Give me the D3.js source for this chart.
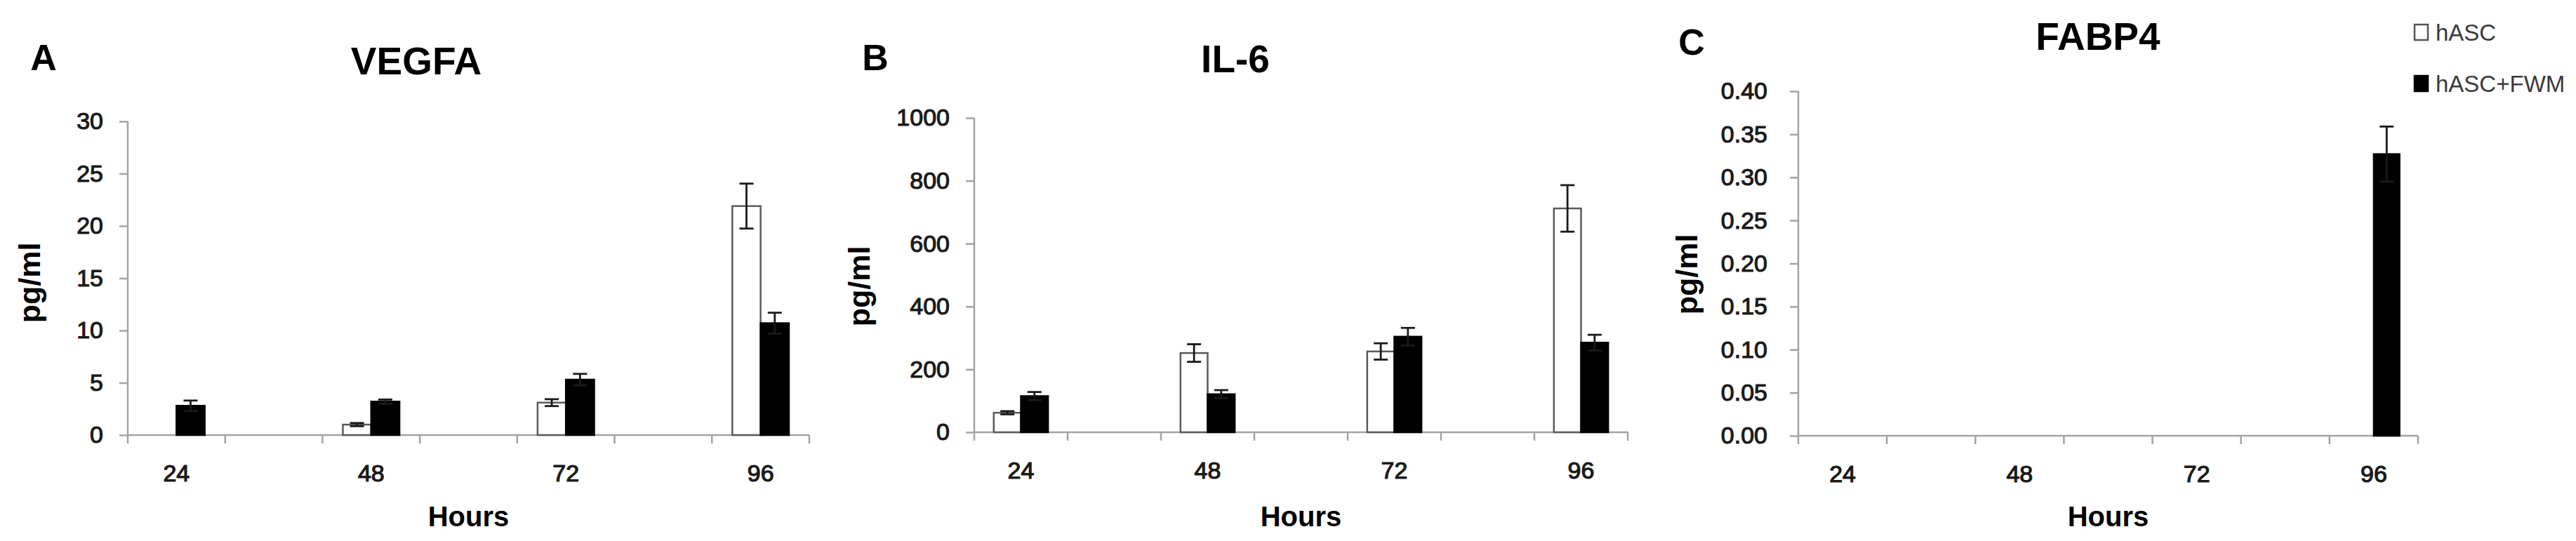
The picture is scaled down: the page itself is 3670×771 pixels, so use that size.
<!DOCTYPE html>
<html>
<head>
<meta charset="utf-8">
<script src="https://cdn.jsdelivr.net/npm/d3@7"></script>
<style>
  html, body { margin: 0; padding: 0; background: #fff; }
  svg { display: block; }
  text { font-family: "Liberation Sans", Arial, sans-serif; }
</style>
</head>
<body>
<script>
// ---------------- DATA ----------------
const hours = ["24", "48", "72", "96"];
const series = ["hASC", "hASC+FWM"];

const vegfaHASC    = [0, 1.0, 3.1, 21.9];
const vegfaHASCErr = [0, 0.15, 0.33, 2.15];
const vegfaFWM     = [2.8, 3.2, 5.3, 10.7];
const vegfaFWMErr  = [0.5, 0.2, 0.55, 1.0];

const il6HASC    = [62, 252, 257, 712];
const il6HASCErr = [5, 28, 26, 74];
const il6FWM     = [115, 121, 304, 285];
const il6FWMErr  = [13, 13, 28, 25];

const fabp4HASC    = [0, 0, 0, 0];
const fabp4HASCErr = [0, 0, 0, 0];
const fabp4FWM     = [0, 0, 0, 0.327];
const fabp4FWMErr  = [0, 0, 0, 0.032];

const vegfaTicks = [0, 5, 10, 15, 20, 25, 30];
const il6Ticks   = [0, 200, 400, 600, 800, 1000];
const fabp4Ticks = [0, 0.05, 0.10, 0.15, 0.20, 0.25, 0.30, 0.35, 0.40];

const titles  = ["VEGFA", "IL-6", "FABP4"];
const letters = ["A", "B", "C"];
const xTitle = "Hours";
const yTitle = "pg/ml";

// ---------------- LAYOUT ----------------
const W = 3670, H = 771;
const svg = d3.select("body").append("svg").attr("width", W).attr("height", H);

const AXIS = "#a3a3a3";

const panels = [
  { title: titles[0], letter: letters[0], vals: [vegfaHASC, vegfaFWM], errs: [vegfaHASCErr, vegfaFWMErr],
    ticks: vegfaTicks, fmt: d3.format("d"),
    x0: 182, x1: 1153, y0: 620, yTop: 173, labelGap: 35,
    titleX: 593, titleY: 106, letterX: 62, letterY: 100, yLabX: 42, yLabY: 403 },
  { title: titles[1], letter: letters[1], vals: [il6HASC, il6FWM], errs: [il6HASCErr, il6FWMErr],
    ticks: il6Ticks, fmt: d3.format("d"),
    x0: 1388, x1: 2319, y0: 616, yTop: 168, labelGap: 35,
    titleX: 1760, titleY: 103, letterX: 1247, letterY: 100, yLabX: 1224, yLabY: 408 },
  { title: titles[2], letter: letters[2], vals: [fabp4HASC, fabp4FWM], errs: [fabp4HASCErr, fabp4FWMErr],
    ticks: fabp4Ticks, fmt: d3.format(".2f"),
    x0: 2562, x1: 3445, y0: 621, yTop: 130, labelGap: 44,
    titleX: 2989, titleY: 71, letterX: 2410, letterY: 78, yLabX: 2403, yLabY: 391 }
];

function drawPanel(p) {
  const g = svg.append("g");
  const yMax = d3.max(p.ticks);
  const y = d3.scaleLinear().domain([0, yMax]).range([p.y0, p.yTop]);

  // slots: categories with empty gap slots between them
  const slots = [];
  hours.forEach((h, i) => { slots.push(h); if (i < hours.length - 1) slots.push("gap" + i); });
  const x = d3.scaleBand().domain(slots).range([p.x0, p.x1]).paddingInner(0).paddingOuter(0);
  const xs = d3.scaleBand().domain(series).range([0, x.bandwidth()]).paddingInner(0).paddingOuter(0.72);

  // Y axis
  const yAxis = d3.axisLeft(y).tickValues(p.ticks).tickFormat(p.fmt)
    .tickSize(12).tickSizeOuter(0).tickPadding(p.labelGap - 12);
  const ya = g.append("g").attr("transform", `translate(${p.x0},0)`).call(yAxis);
  ya.select(".domain").remove();
  ya.selectAll(".tick line").attr("stroke", AXIS).attr("stroke-width", 2.5);
  ya.selectAll(".tick text")
    .attr("font-size", 34).attr("fill", "#1a1a1a")
    .attr("stroke", "#1a1a1a").attr("stroke-width", 1.1)
    .attr("font-family", "'Liberation Sans', Arial, sans-serif");
  g.append("line")
    .attr("x1", p.x0).attr("x2", p.x0)
    .attr("y1", y(yMax)).attr("y2", y(0) + 12)
    .attr("stroke", AXIS).attr("stroke-width", 2.5);

  // X axis baseline
  g.append("line")
    .attr("x1", p.x0).attr("x2", p.x1)
    .attr("y1", y(0)).attr("y2", y(0))
    .attr("stroke", AXIS).attr("stroke-width", 2.5);
  // boundary ticks
  const bounds = slots.map(s => x(s) + x.bandwidth());
  g.selectAll(".xtick").data(bounds).enter().append("line")
    .attr("x1", d => d).attr("x2", d => d)
    .attr("y1", y(0)).attr("y2", y(0) + 12)
    .attr("stroke", AXIS).attr("stroke-width", 2.5);

  // category labels
  const xAxis = d3.axisBottom(x).tickValues(hours).tickSize(0).tickPadding(0);
  const xa = g.append("g").attr("transform", `translate(0,${y(0)})`).call(xAxis);
  xa.select(".domain").remove();
  xa.selectAll(".tick text")
    .attr("y", 66).attr("dy", 0)
    .attr("font-size", 34).attr("fill", "#1a1a1a")
    .attr("stroke", "#1a1a1a").attr("stroke-width", 1.2)
    .attr("font-family", "'Liberation Sans', Arial, sans-serif");

  // bars
  series.forEach((s, si) => {
    const vals = p.vals[si];
    const errs = p.errs[si];
    const data = hours.map((h, i) => ({ h, v: vals[i], e: errs[i] })).filter(d => d.v > 0);
    const white = si === 0;
    g.selectAll(".bar" + si).data(data).enter().append("rect")
      .attr("x", d => x(d.h) + xs(s))
      .attr("width", xs.bandwidth())
      .attr("y", d => y(d.v))
      .attr("height", d => y(0) - y(d.v))
      .attr("fill", white ? "#fff" : "#000")
      .attr("stroke", white ? "#5a5a5a" : "#000")
      .attr("stroke-width", 2.5);

    const ed = data.filter(d => d.e > 0);
    const cx = d => x(d.h) + xs(s) + xs.bandwidth() / 2;
    const cap = 20;
    g.selectAll(".ev" + si).data(ed).enter().append("line")
      .attr("x1", cx).attr("x2", cx)
      .attr("y1", d => y(Math.max(0, d.v - d.e))).attr("y2", d => y(d.v + d.e))
      .attr("stroke", "#1a1a1a").attr("stroke-width", 2.8);
    g.selectAll(".et" + si).data(ed).enter().append("line")
      .attr("x1", d => cx(d) - cap / 2).attr("x2", d => cx(d) + cap / 2)
      .attr("y1", d => y(d.v + d.e)).attr("y2", d => y(d.v + d.e))
      .attr("stroke", "#1a1a1a").attr("stroke-width", 2.8);
    g.selectAll(".eb" + si).data(ed.filter(d => d.v - d.e > 0)).enter().append("line")
      .attr("x1", d => cx(d) - cap / 2).attr("x2", d => cx(d) + cap / 2)
      .attr("y1", d => y(d.v - d.e)).attr("y2", d => y(d.v - d.e))
      .attr("stroke", "#1a1a1a").attr("stroke-width", 2.8);
  });

  // titles
  g.append("text").attr("x", p.titleX).attr("y", p.titleY)
    .attr("text-anchor", "middle").attr("font-size", 55).attr("font-weight", "bold")
    .attr("fill", "#000").text(p.title);
  g.append("text").attr("x", p.letterX).attr("y", p.letterY)
    .attr("text-anchor", "middle").attr("font-size", 52).attr("font-weight", "bold")
    .attr("fill", "#000").text(p.letter);
  // axis titles
  g.append("text").attr("x", (p.x0 + p.x1) / 2).attr("y", 750)
    .attr("text-anchor", "middle").attr("font-size", 40).attr("font-weight", "bold")
    .attr("fill", "#000").text(xTitle);
  g.append("text").attr("transform", `translate(${p.yLabX},${p.yLabY}) rotate(-90)`)
    .attr("text-anchor", "middle").attr("dy", "0.35em")
    .attr("font-size", 43).attr("font-weight", "bold")
    .attr("fill", "#000").text(yTitle);
}

panels.forEach(drawPanel);

// legend
const legend = svg.append("g");
const legY = [46, 119];
series.forEach((s, i) => {
  legend.append("rect")
    .attr("x", 3440).attr("y", legY[i] - 11)
    .attr("width", 19).attr("height", 22)
    .attr("fill", i === 0 ? "#fff" : "#000")
    .attr("stroke", i === 0 ? "#555" : "#000").attr("stroke-width", 2.5);
  legend.append("text")
    .attr("x", 3470).attr("y", legY[i]).attr("dy", "0.36em")
    .attr("font-size", 33).attr("fill", "#3a3a3a").text(s);
});
</script>
</body>
</html>
